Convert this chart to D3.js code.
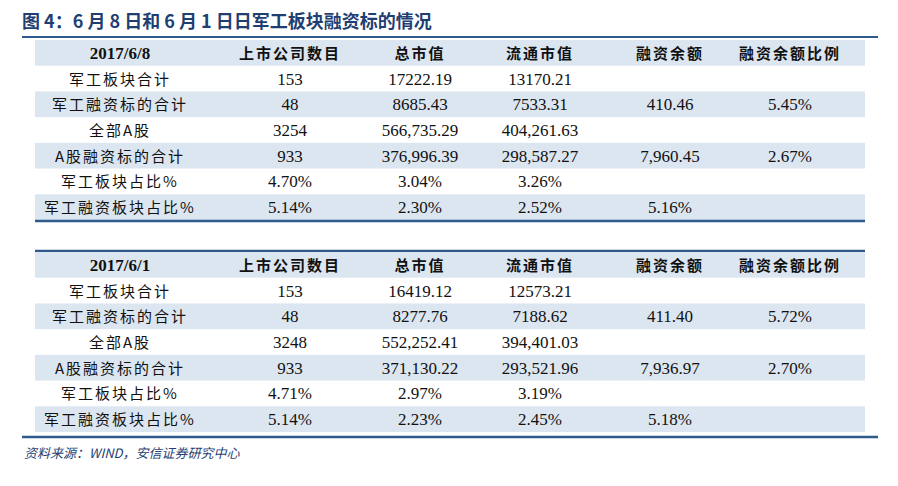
<!DOCTYPE html><html><head><meta charset="utf-8">
<script src="https://cdn.jsdelivr.net/npm/d3@7"></script>
<style>body{margin:0;background:#fff}</style></head><body><svg id="c" width="898" height="486"></svg>
<script>
const columns = ["上市公司数目","总市值","流通市值","融资余额","融资余额比例"];
const rowLabels = ["军工板块合计","军工融资标的合计","全部A股","A股融资标的合计","军工板块占比%","军工融资板块占比%"];
const dates = ["2017/6/8","2017/6/1"];
const table1 = [
 ["153","17222.19","13170.21","",""],
 ["48","8685.43","7533.31","410.46","5.45%"],
 ["3254","566,735.29","404,261.63","",""],
 ["933","376,996.39","298,587.27","7,960.45","2.67%"],
 ["4.70%","3.04%","3.26%","",""],
 ["5.14%","2.30%","2.52%","5.16%",""]];
const table2 = [
 ["153","16419.12","12573.21","",""],
 ["48","8277.76","7188.62","411.40","5.72%"],
 ["3248","552,252.41","394,401.03","",""],
 ["933","371,130.22","293,521.96","7,936.97","2.70%"],
 ["4.71%","2.97%","3.19%","",""],
 ["5.14%","2.23%","2.45%","5.18%",""]];
const svg=d3.select("#c");
const blue="#2e5a8c", band="#dce6f1";
svg.append("text").attr("x",22).attr("y",28).attr("font-family","Noto Sans CJK SC").attr("font-weight","bold")
 .attr("font-size",18).attr("fill","#1f3f73").text("图 4：6 月 8 日和 6 月 1 日日军工板块融资标的情况");
svg.append("line").attr("x1",22).attr("x2",878).attr("y1",37).attr("y2",37).attr("stroke",blue).attr("stroke-width",2);
const x=d3.scaleOrdinal().domain(d3.range(6)).range([120,290,420,540,670,790]);
function drawTable(top,date,data){
  const y=d3.scaleBand().domain(d3.range(7)).range([top,top+180]);
  const g=svg.append("g");
  [0,2,4,6].forEach(i=>g.append("rect").attr("x",35).attr("width",830).attr("y",y(i)).attr("height",y.bandwidth()).attr("fill",band));
  const rows=[[date,...columns],...rowLabels.map((l,i)=>[l,...data[i]])];
  rows.forEach((r,i)=>r.forEach((t,j)=>{
    const isLabel = j==0 && i>0;
    const bold = i==0;
    g.append("text").attr("x",x(j)).attr("y",y(i)+y.bandwidth()/2+6).attr("text-anchor","middle")
     .attr("font-family",(bold&&j>0)||isLabel?"Noto Sans CJK SC":"Liberation Serif").attr("font-weight",bold?"bold":"normal")
     .attr("font-size",(bold&&j>0)?15:(isLabel?15:17)).attr("letter-spacing",(bold&&j>0)||isLabel?2:0).attr("fill","#111").text(t);
  }));
  return y;
}
drawTable(40,dates[0],table1);
svg.append("line").attr("x1",35).attr("x2",865).attr("y1",221).attr("y2",221).attr("stroke",blue).attr("stroke-width",2.5);
svg.append("line").attr("x1",35).attr("x2",865).attr("y1",251).attr("y2",251).attr("stroke",blue).attr("stroke-width",2.5);
drawTable(252,dates[1],table2);
svg.append("line").attr("x1",22).attr("x2",878).attr("y1",437).attr("y2",437).attr("stroke",blue).attr("stroke-width",2.5);
svg.append("text").attr("x",24).attr("y",458).attr("font-family","Noto Sans CJK SC").attr("font-style","italic")
 .attr("font-size",13).attr("fill","#1f3f73").text("资料来源：WIND，安信证券研究中心");
</script></body></html>
